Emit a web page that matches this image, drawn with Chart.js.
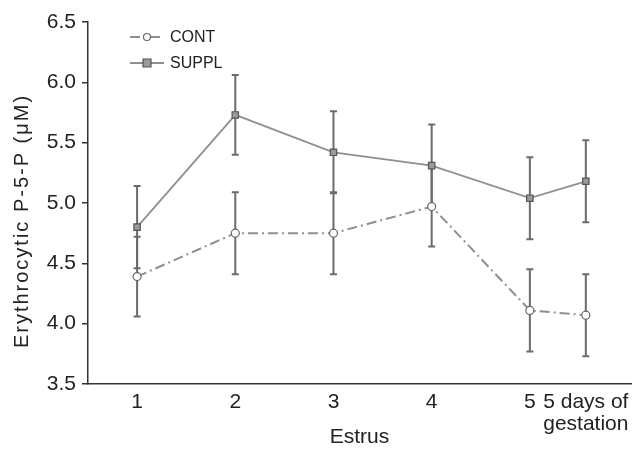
<!DOCTYPE html>
<html>
<head>
<meta charset="utf-8">
<script src="https://cdn.jsdelivr.net/npm/chart.js@4/dist/chart.umd.min.js"></script>
<style>
  html, body { margin: 0; padding: 0; background: #fff; }
</style>
</head>
<body>
<canvas id="chart" width="643" height="450"></canvas>
<script>
// positions on the x axis (last one sits closer to 5)
const xPos = [1, 2, 3, 4, 5, 5.57];
const xLabels = ["1", "2", "3", "4", "5", ["5 days of", "gestation"]];

const contMean = [4.39, 4.75, 4.75, 4.97, 4.11, 4.07];
const contErr = [0.33, 0.34, 0.34, 0.33, 0.34, 0.34];
const supplMean = [4.80, 5.73, 5.42, 5.31, 5.04, 5.18];
const supplErr = [0.34, 0.33, 0.34, 0.34, 0.34, 0.34];

const yTicks = [3.5, 4.0, 4.5, 5.0, 5.5, 6.0, 6.5];
const yTitle = "Erythrocytic P-5-P (\u03bcM)";

const FONT = "'Liberation Sans', Arial, Helvetica, sans-serif";

const toPoints = (vals) => vals.map((v, i) => ({ x: xPos[i], y: v }));

// error bars drawn through the chart's own scales
const errorBars = {
  id: "errorBars",
  beforeDatasetsDraw(chart) {
    const { ctx, scales: { x, y } } = chart;
    const sets = [supplErr, contErr];
    ctx.save();
    ctx.strokeStyle = "#6b6b6b";
    ctx.lineWidth = 2;
    chart.data.datasets.forEach((ds, k) => {
      ds.data.forEach((p, i) => {
        const px = x.getPixelForValue(p.x);
        const top = y.getPixelForValue(p.y + sets[k][i]);
        const bot = y.getPixelForValue(p.y - sets[k][i]);
        ctx.beginPath();
        ctx.moveTo(px, top); ctx.lineTo(px, bot);
        ctx.moveTo(px - 3.5, top); ctx.lineTo(px + 3.5, top);
        ctx.moveTo(px - 3.5, bot); ctx.lineTo(px + 3.5, bot);
        ctx.stroke();
      });
    });
    ctx.restore();
  },
};

// legend in the upper left corner + the y axis title (sits a bit low in the original)
const extras = {
  id: "extras",
  afterDraw(chart) {
    const { ctx } = chart;
    const order = [1, 0];
    ctx.save();
    order.forEach((k, row) => {
      const ds = chart.data.datasets[k];
      const y = 37 + row * 26;
      ctx.strokeStyle = ds.borderColor;
      ctx.lineWidth = ds.borderWidth;
      ctx.setLineDash(ds.borderDash || []);
      ctx.beginPath();
      ctx.moveTo(130, y); ctx.lineTo(164, y);
      ctx.stroke();
      ctx.setLineDash([]);
      ctx.fillStyle = ds.pointBackgroundColor;
      ctx.strokeStyle = ds.pointBorderColor;
      ctx.lineWidth = ds.pointBorderWidth;
      ctx.beginPath();
      if (ds.pointStyle === "rect") {
        ctx.rect(147 - 4, y - 4, 8, 8);
      } else {
        ctx.arc(147, y, 3.5, 0, Math.PI * 2);
      }
      ctx.fill(); ctx.stroke();
      ctx.fillStyle = "#222";
      ctx.font = "16px " + FONT;
      ctx.textBaseline = "middle";
      ctx.fillText(ds.label, 170, y + 1);
    });

    ctx.translate(22, 221);
    ctx.rotate(-Math.PI / 2);
    ctx.font = "20px " + FONT;
    ctx.letterSpacing = "2px";
    ctx.textAlign = "center";
    ctx.textBaseline = "middle";
    ctx.fillStyle = "#222";
    ctx.fillText(yTitle, 0, 0);
    ctx.restore();
  },
};

new Chart(document.getElementById("chart"), {
  type: "line",
  data: {
    datasets: [
      {
        label: "SUPPL",
        data: toPoints(supplMean),
        borderColor: "#8f8f8f",
        borderWidth: 1.8,
        pointStyle: "rect",
        pointRadius: 4.5,
        pointBackgroundColor: "#9a9a9a",
        pointBorderColor: "#555",
        pointBorderWidth: 1.2,
      },
      {
        label: "CONT",
        data: toPoints(contMean),
        borderColor: "#8f8f8f",
        borderWidth: 2,
        borderDash: [10, 4, 2, 4],
        pointStyle: "circle",
        pointRadius: 4,
        pointBackgroundColor: "#fff",
        pointBorderColor: "#666",
        pointBorderWidth: 1.2,
      },
    ],
  },
  options: {
    responsive: false,
    devicePixelRatio: 1,
    animation: false,
    layout: { padding: { left: 0, right: 12, top: 22, bottom: 0 } },
    plugins: { legend: { display: false }, tooltip: { enabled: false } },
    scales: {
      x: {
        type: "linear",
        min: 0.5,
        max: 6.03,
        afterBuildTicks: (s) => { s.ticks = xPos.map((v) => ({ value: v })); },
        afterFit: (s) => { s.height = 66; },
        grid: { display: false, drawTicks: false },
        border: { display: true, color: "#333", width: 1.5 },
        ticks: {
          autoSkip: false,
          maxRotation: 0,
          minRotation: 0,
          padding: 7,
          color: "#222",
          font: { family: FONT, size: 21, lineHeight: 1.05 },
          callback: (v) => {
            const i = xPos.indexOf(v);
            return i >= 0 ? xLabels[i] : "";
          },
        },
        title: {
          display: true,
          text: "Estrus",
          color: "#222",
          font: { family: FONT, size: 21 },
          padding: { top: 0, bottom: 0 },
        },
      },
      y: {
        min: 3.5,
        max: 6.5,
        afterBuildTicks: (s) => { s.ticks = yTicks.map((v) => ({ value: v })); },
        afterFit: (s) => { s.width = 88; },
        grid: { drawOnChartArea: false, drawTicks: true, tickLength: 6, color: "#333", lineWidth: 1.5 },
        border: { display: true, color: "#333", width: 1.5 },
        ticks: {
          padding: 6,
          color: "#222",
          font: { family: FONT, size: 21 },
          callback: (v) => v.toFixed(1),
        },
        title: { display: false },
      },
    },
  },
  plugins: [errorBars, extras],
});
</script>
</body>
</html>
